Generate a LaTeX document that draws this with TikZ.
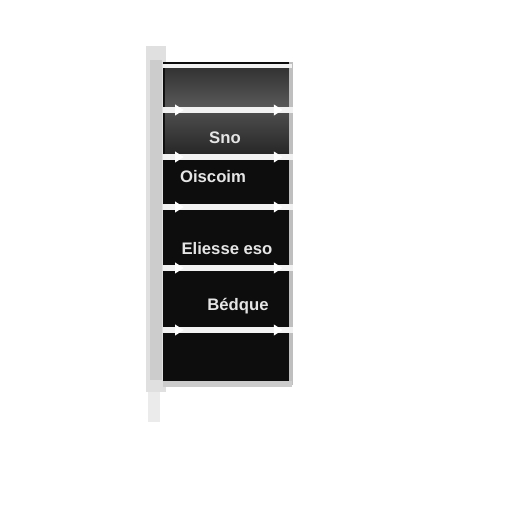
\documentclass[tikz,border=0pt]{standalone}
\usepackage{fontspec}
\setmainfont{Liberation Sans}
\setsansfont{Liberation Sans}
\usetikzlibrary{arrows.meta,decorations.markings}
\tikzset{
  bar/.style={draw=white!95!black,line width=3.2pt,
    postaction={decorate,decoration={markings,
      mark=at position 0.16 with {\arrow[white]{Triangle[width=6pt,length=5pt]}},
      mark=at position 0.92 with {\arrow[white]{Triangle[width=6pt,length=5pt]}}}}},
  lbl/.style={text=white!90!black,font=\sffamily\bfseries\fontsize{9.5}{11}\selectfont}
}
\begin{document}
\begin{tikzpicture}[x=0.02cm,y=-0.02cm]
\useasboundingbox (0,0) rectangle (512,512);
% left shadow
\fill[black!12] (146,46) rectangle (166,392);
\fill[black!8] (148,392) rectangle (160,422);
\fill[black!20] (150,60) rectangle (162,380);
% panel
\fill[black!95] (163,62) rectangle (291,385);
\shade[top color=black!80,bottom color=black!65] (165,68) rectangle (289,108);
\shade[top color=black!70,bottom color=black!85] (165,112) rectangle (289,155);
% right light border
\draw[black!25,line width=2.5pt] (291,62) -- (291,385);
\draw[black!20,line width=3pt] (163,384) -- (292,384);
% bars
\coordinate (b0l) at (163,66); \coordinate (b0r) at (292,66);
\draw[white!95!black,line width=2.5pt] (b0l) -- (b0r);
\coordinate (b1l) at (163,110); \coordinate (b1r) at (293,110);
\coordinate (b2l) at (163,157); \coordinate (b2r) at (293,157);
\coordinate (b3l) at (163,207); \coordinate (b3r) at (293,207);
\coordinate (b4l) at (163,268); \coordinate (b4r) at (293,268);
\coordinate (b5l) at (163,330); \coordinate (b5r) at (293,330);
\draw[bar] (b1l) -- (b1r);
\draw[bar] (b2l) -- (b2r);
\draw[bar] (b3l) -- (b3r);
\draw[bar] (b4l) -- (b4r);
\draw[bar] (b5l) -- (b5r);
% labels
\node[lbl] (t1) at (225,138) {Sno};
\node[lbl] (t2) at (213,177) {Oiscoim};
\node[lbl] (t3) at (227,249) {Eliesse eso};
\node[lbl] (t4) at (238,306) {Bédque};
\end{tikzpicture}
\end{document}
